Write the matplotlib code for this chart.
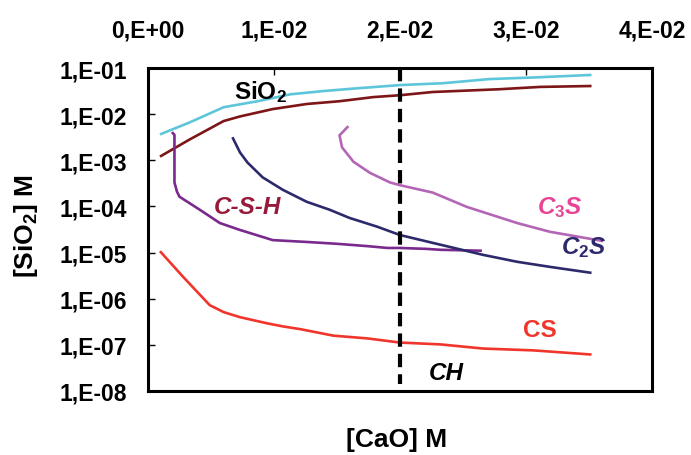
import numpy as np
import matplotlib
matplotlib.use("Agg")
import matplotlib.pyplot as plt
from matplotlib.ticker import FixedLocator, NullLocator

plt.rcParams["font.family"] = ["Liberation Sans", "DejaVu Sans"]
plt.rcParams["font.weight"] = "bold"
plt.rcParams["mathtext.fontset"] = "custom"
plt.rcParams["mathtext.rm"] = "Liberation Sans:bold"
plt.rcParams["mathtext.it"] = "Liberation Sans:bold:italic"
plt.rcParams["mathtext.bf"] = "Liberation Sans:bold"
plt.rcParams["mathtext.default"] = "rm"

# ── 곡선 데이터: x = [CaO] (M), y = log10([SiO2] / M) ─────────────
sio2_x = [0.00095, 0.0033, 0.0060, 0.0087, 0.0113, 0.0139, 0.0166,
          0.0200, 0.0234, 0.0271, 0.0311, 0.0352]
sio2_log = [-2.44, -2.18, -1.85, -1.72, -1.57, -1.50, -1.44,
            -1.37, -1.33, -1.24, -1.20, -1.15]

am_x = [0.00095, 0.0033, 0.0060, 0.0073, 0.0099, 0.0126, 0.0152,
        0.0179, 0.0200, 0.0226, 0.0279, 0.0311, 0.0352]
am_log = [-2.92, -2.55, -2.15, -2.05, -1.89, -1.78, -1.72,
          -1.63, -1.59, -1.52, -1.46, -1.41, -1.39]

csh_x = [0.0019, 0.0021, 0.0021, 0.0021, 0.0023, 0.0025, 0.0041, 0.0057,
         0.0073, 0.0099, 0.0126, 0.0150, 0.0174, 0.0190, 0.0200, 0.0221,
         0.0232, 0.0265]
csh_log = [-2.39, -2.45, -3.00, -3.48, -3.68, -3.79, -4.07, -4.36,
           -4.51, -4.73, -4.77, -4.81, -4.86, -4.90, -4.90, -4.92,
           -4.94, -4.96]

c2s_x = [0.0067, 0.0073, 0.0079, 0.0091, 0.0107, 0.0126, 0.0144, 0.0160,
         0.0182, 0.0200, 0.0226, 0.0266, 0.0293, 0.0319, 0.0352]
c2s_log = [-2.50, -2.83, -3.05, -3.37, -3.64, -3.90, -4.07, -4.25,
           -4.44, -4.62, -4.79, -5.05, -5.20, -5.31, -5.44]

c3s_x = [0.0159, 0.0152, 0.0154, 0.0163, 0.0176, 0.0192, 0.0200,
         0.0226, 0.0253, 0.0293, 0.0319, 0.0361]
c3s_log = [-2.26, -2.46, -2.72, -3.03, -3.27, -3.48, -3.54,
           -3.70, -4.01, -4.36, -4.55, -4.75]

cs_x = [0.00095, 0.0028, 0.0049, 0.0060, 0.0073, 0.0094, 0.0107,
        0.0121, 0.0147, 0.0174, 0.0200, 0.0232, 0.0266, 0.0306, 0.0352]
cs_log = [-4.97, -5.53, -6.14, -6.29, -6.40, -6.53, -6.60,
          -6.66, -6.80, -6.86, -6.95, -6.99, -7.08, -7.12, -7.21]

ch_x = 0.02          # CH 포화 경계
ch_y = [1e-1, 1.45e-8]

x_ticks = [0.0, 0.01, 0.02, 0.03, 0.04]
x_labels = ["0,E+00", "1,E-02", "2,E-02", "3,E-02", "4,E-02"]
y_ticks = [1e-1, 1e-2, 1e-3, 1e-4, 1e-5, 1e-6, 1e-7, 1e-8]
y_labels = ["1,E-01", "1,E-02", "1,E-03", "1,E-04",
            "1,E-05", "1,E-06", "1,E-07", "1,E-08"]

curves = [
    (sio2_x, sio2_log, "#5ec6da"),
    (am_x, am_log, "#7e1517"),
    (csh_x, csh_log, "#7a2a8c"),
    (c2s_x, c2s_log, "#2d2a6c"),
    (c3s_x, c3s_log, "#b466b6"),
    (cs_x, cs_log, "#f0362c"),
]

W, H = 691, 456
fig = plt.figure(figsize=(W / 100, H / 100), dpi=100)
ax = fig.add_axes([148 / W, 1 - 392 / H, 504 / W, 323 / H])

for xs, logs, col in curves:
    ax.plot(xs, 10 ** np.array(logs), color=col, lw=1.9,
            solid_joinstyle="round", solid_capstyle="butt")

ax.plot([ch_x, ch_x], ch_y, color="black", lw=3.0, dashes=(3.2, 1.7))

ax.set_yscale("log")
ax.set_xlim(0, 0.04)
ax.set_ylim(1e-8, 1e-1)

ax.yaxis.set_major_locator(FixedLocator(y_ticks))
ax.yaxis.set_minor_locator(NullLocator())
ax.set_yticklabels(y_labels)
ax.set_xticks(x_ticks)
ax.set_xticklabels(x_labels)

ax.tick_params(axis="y", direction="in", length=5, width=1, left=True, right=False,
               labelsize=16.5, pad=15)
ax.tick_params(axis="x", direction="in", length=5, width=1, top=True, bottom=False,
               labeltop=True, labelbottom=False, labelsize=16.5, pad=19)
for sp in ax.spines.values():
    sp.set_linewidth(2.2)

# 축 제목
fig.text(26 / W, 1 - 226 / H, "[SiO$_2$] M", rotation=90, ha="center", va="center",
         fontsize=19, fontweight="bold")
fig.text(397 / W, 1 - 440 / H, "[CaO] M", ha="center", va="center",
         fontsize=19, fontweight="bold")

# 곡선 이름
lab = dict(fontsize=17.5, ha="center", va="center")
ax.text(0.0089, 10 ** -1.50, "SiO$_2$", color="black", **lab)
ax.text(0.0079, 10 ** -4.01, "C-S-H", color="#981a3b", style="italic", **lab)
ax.text(0.0327, 10 ** -4.00, "C$_3$S", color="#e94396", style="italic", **lab)
ax.text(0.0346, 10 ** -4.86, "C$_2$S", color="#2d2a6c", style="italic", **lab)
ax.text(0.0311, 10 ** -6.66, "CS", color="#f0362c", **lab)
ax.text(0.0237, 10 ** -7.60, "CH", color="black", style="italic", **lab)

fig.savefig("out.png", dpi=100)
